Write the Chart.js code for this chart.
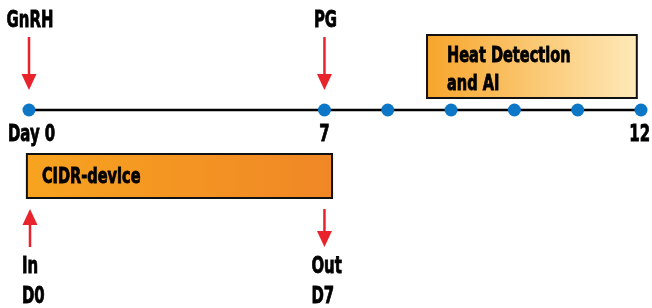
<!DOCTYPE html>
<html>
<head>
<meta charset="utf-8">
<script src="https://cdn.jsdelivr.net/npm/chart.js@4"></script>
<style>
  body { margin: 0; background: #fff; }
  #wrap { width: 652px; height: 308px; }
</style>
</head>
<body>
<div id="wrap"><canvas id="timeline" width="652" height="308"></canvas></div>
<script>
// schematic positions of the markers on the time line (day 7 onward is drawn stretched)
const dayPositions = [0, 7, 8.5, 10, 11.5, 13, 14.5];
const dayLabels = ['Day 0', '7', '', '', '', '', '12'];

// treatments given above the line
const treatmentLabels = ['GnRH', 'PG'];
const treatmentDays = [0, 7];

// periods shown as boxes
const periodLabels = [['CIDR-device'], ['Heat Detection', 'and AI']];
const periodStart = [-0.05, 9.43];
const periodEnd = [7.18, 14.4];

// CIDR insert / removal
const cidrLabels = [['In', 'D0'], ['Out', 'D7']];
const cidrDays = [0, 7];
const cidrDirection = ['up', 'down'];

const LINE_Y = 110;
const RED = '#e8232b';
const FONT = '"DejaVu Sans Condensed", "Liberation Sans Narrow", sans-serif';

function narrowText(ctx, txt, x, y, size, align, squeeze) {
  ctx.save();
  ctx.font = 'bold ' + size + 'px ' + FONT;
  ctx.textBaseline = 'alphabetic';
  const w = ctx.measureText(txt).width * squeeze;
  let left = x;
  if (align === 'center') left = x - w / 2;
  if (align === 'right') left = x - w;
  ctx.translate(left, y);
  ctx.scale(squeeze, 1);
  ctx.fillStyle = '#000';
  ctx.strokeStyle = '#000';
  ctx.lineWidth = 0.8;
  ctx.textAlign = 'left';
  ctx.fillText(txt, 0, 0);
  ctx.strokeText(txt, 0, 0);
  ctx.restore();
}

function arrow(ctx, x, y0, y1, dir) {
  // y0 top, y1 bottom; head at bottom for 'down', at top for 'up'
  const hw = 7.5, hh = 16;
  ctx.save();
  ctx.strokeStyle = RED;
  ctx.fillStyle = RED;
  ctx.lineWidth = 2.5;
  ctx.beginPath();
  if (dir === 'down') {
    ctx.moveTo(x, y0); ctx.lineTo(x, y1 - hh + 1);
  } else {
    ctx.moveTo(x, y0 + hh - 1); ctx.lineTo(x, y1);
  }
  ctx.stroke();
  ctx.beginPath();
  if (dir === 'down') {
    ctx.moveTo(x - hw, y1 - hh); ctx.lineTo(x + hw, y1 - hh); ctx.lineTo(x, y1);
  } else {
    ctx.moveTo(x - hw, y0 + hh); ctx.lineTo(x + hw, y0 + hh); ctx.lineTo(x, y0);
  }
  ctx.closePath();
  ctx.fill();
  ctx.restore();
}

const diagramPlugin = {
  id: 'diagram',
  afterDatasetsDraw(chart) {
    const ctx = chart.ctx;
    const xs = chart.scales.x, ys = chart.scales.y;
    const big = 0.72, small = 0.77;

    // tick labels under the line
    dayPositions.forEach((d, i) => {
      const lbl = dayLabels[i];
      if (!lbl) return;
      const px = xs.getPixelForValue(d);
      const py = ys.getPixelForValue(141);
      if (i === 0) narrowText(ctx, lbl, px - 21, py, 23, 'left', big);
      else if (i === dayPositions.length - 1) narrowText(ctx, lbl, 650, py, 23, 'right', big);
      else narrowText(ctx, lbl, px, py, 23, 'center', big);
    });

    // treatments above
    treatmentDays.forEach((d, i) => {
      const px = xs.getPixelForValue(d);
      narrowText(ctx, treatmentLabels[i], px + 1, ys.getPixelForValue(27), 23, 'center', big);
      arrow(ctx, px, ys.getPixelForValue(37), ys.getPixelForValue(90), 'down');
    });

    // period boxes
    const boxRows = [[154, 198, ['#f7a31f', '#f08726']], [35, 98, ['#f7a52b', '#fee9b8']]];
    periodLabels.forEach((lines, i) => {
      const x0 = xs.getPixelForValue(periodStart[i]);
      const x1 = xs.getPixelForValue(periodEnd[i]);
      const y0 = ys.getPixelForValue(boxRows[i][0]);
      const y1 = ys.getPixelForValue(boxRows[i][1]);
      const g = ctx.createLinearGradient(x0, 0, x1, 0);
      g.addColorStop(0, boxRows[i][2][0]);
      g.addColorStop(1, boxRows[i][2][1]);
      ctx.save();
      ctx.fillStyle = g;
      ctx.fillRect(x0, y0, x1 - x0, y1 - y0);
      ctx.strokeStyle = '#111';
      ctx.lineWidth = 2;
      ctx.strokeRect(x0, y0, x1 - x0, y1 - y0);
      ctx.restore();
      lines.forEach((t, k) => {
        const base = i === 0 ? 183 : 62 + k * 28;
        narrowText(ctx, t, x0 + (i === 0 ? 15 : 20), ys.getPixelForValue(base), 21, 'left', small);
      });
    });

    // CIDR in / out
    cidrDays.forEach((d, i) => {
      const px = xs.getPixelForValue(d);
      arrow(ctx, px + (i === 0 ? 1 : 0), ys.getPixelForValue(209), ys.getPixelForValue(247), cidrDirection[i]);
      narrowText(ctx, cidrLabels[i][0], px - (i === 0 ? 7 : 13), ys.getPixelForValue(273), 23, 'left', big);
      narrowText(ctx, cidrLabels[i][1], px - (i === 0 ? 7 : 13), ys.getPixelForValue(303), 23, 'left', big);
    });
  }
};

new Chart(document.getElementById('timeline'), {
  type: 'scatter',
  data: {
    datasets: [
      {
        type: 'line',
        data: [{ x: dayPositions[0], y: LINE_Y }, { x: dayPositions[dayPositions.length - 1], y: LINE_Y }],
        borderColor: '#000',
        borderWidth: 2.5,
        pointRadius: 0,
        order: 2
      },
      {
        data: dayPositions.map(d => ({ x: d, y: LINE_Y })),
        backgroundColor: '#0b77c6',
        borderWidth: 0,
        pointRadius: 6.5,
        order: 1
      }
    ]
  },
  options: {
    responsive: false,
    animation: false,
    layout: { padding: 0, autoPadding: false },
    plugins: { legend: { display: false }, tooltip: { enabled: false } },
    scales: {
      x: { type: 'linear', min: -0.687, max: 14.76, display: false },
      y: { type: 'linear', min: 0, max: 308, reverse: true, display: false }
    }
  },
  plugins: [diagramPlugin]
});
</script>
</body>
</html>
